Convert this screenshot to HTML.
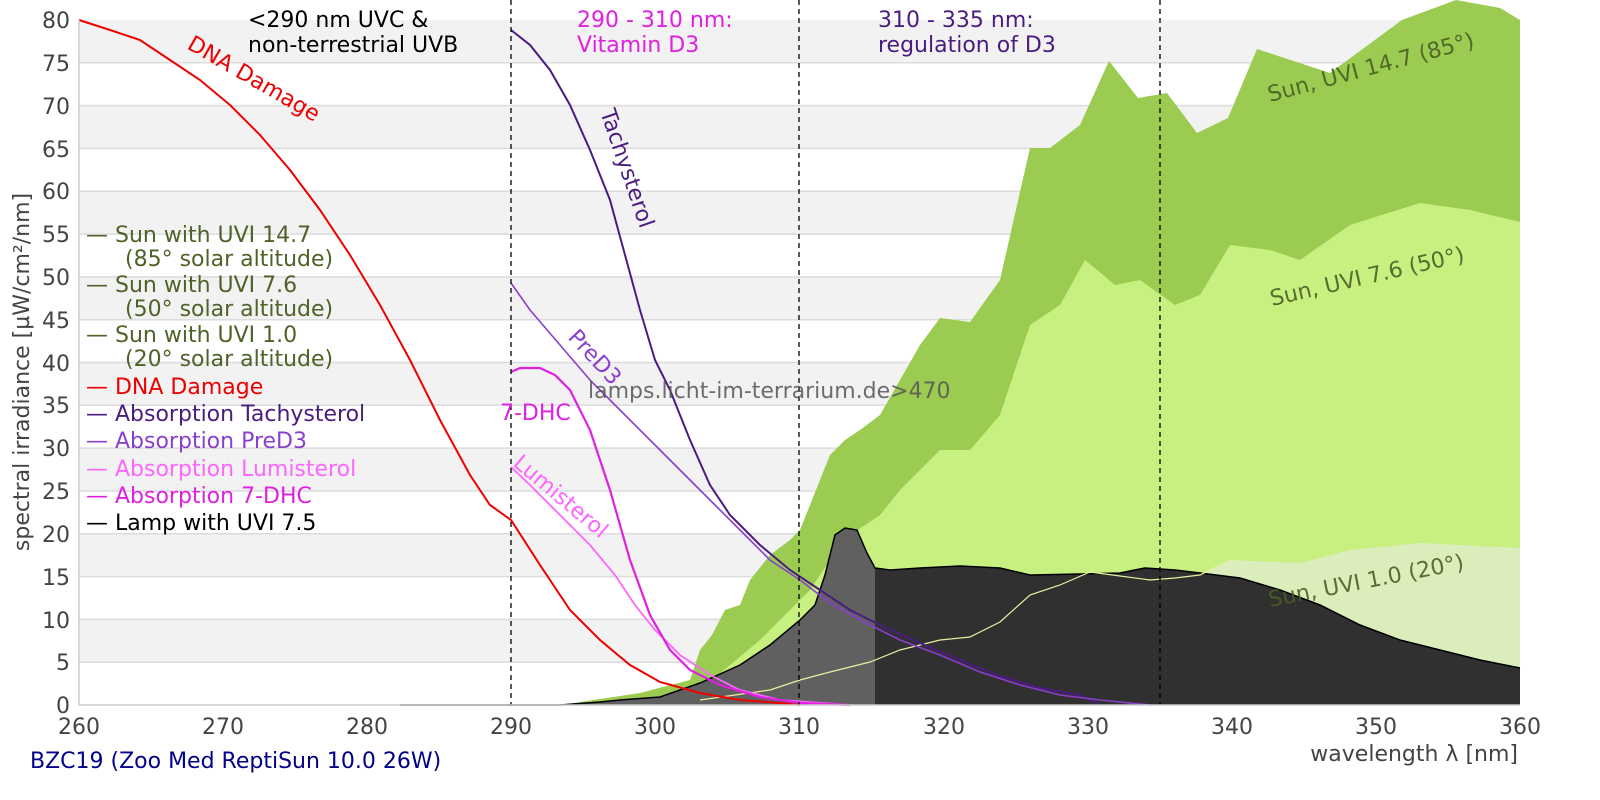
<!DOCTYPE html>
<html><head><meta charset="utf-8"><style>
html,body{margin:0;padding:0;background:#fff;overflow:hidden;width:1600px;height:800px}
svg{display:block;font-family:"DejaVu Sans","Liberation Sans",sans-serif}
</style></head><body>
<svg width="1600" height="800" viewBox="0 0 1600 800" xmlns="http://www.w3.org/2000/svg">
<rect width="1600" height="800" fill="#fff"/>
<g fill="#f2f2f2">
<rect x="79" y="20" width="1441" height="42.8"/>
<rect x="79" y="105.6" width="1441" height="42.8"/>
<rect x="79" y="191.3" width="1441" height="42.8"/>
<rect x="79" y="276.9" width="1441" height="42.8"/>
<rect x="79" y="362.5" width="1441" height="42.8"/>
<rect x="79" y="448.1" width="1441" height="42.8"/>
<rect x="79" y="533.8" width="1441" height="42.8"/>
<rect x="79" y="619.4" width="1441" height="42.8"/>
</g>
<g stroke="#dcdcdc" stroke-width="1.5">
<line x1="79" x2="1520" y1="62.8" y2="62.8"/><line x1="79" x2="1520" y1="105.6" y2="105.6"/>
<line x1="79" x2="1520" y1="148.4" y2="148.4"/><line x1="79" x2="1520" y1="191.3" y2="191.3"/>
<line x1="79" x2="1520" y1="234.1" y2="234.1"/><line x1="79" x2="1520" y1="276.9" y2="276.9"/>
<line x1="79" x2="1520" y1="319.7" y2="319.7"/><line x1="79" x2="1520" y1="362.5" y2="362.5"/>
<line x1="79" x2="1520" y1="405.3" y2="405.3"/><line x1="79" x2="1520" y1="448.1" y2="448.1"/>
<line x1="79" x2="1520" y1="491" y2="491"/><line x1="79" x2="1520" y1="533.8" y2="533.8"/>
<line x1="79" x2="1520" y1="576.6" y2="576.6"/><line x1="79" x2="1520" y1="619.4" y2="619.4"/>
<line x1="79" x2="1520" y1="662.2" y2="662.2"/>
</g>
<polygon fill="#9bcb50" points="560,705 640,693 690,680 700,650 712,635 725,610 740,605 750,580 770,555 790,540 800,530 820,480 830,455 845,440 860,430 880,415 900,380 920,345 940,318 970,322 1000,280 1030,148 1050,148 1080,125 1109,61 1138,98 1167,93 1197,133 1228,118 1257,49 1330,73 1402,20 1456,0 1500,8 1520,20 1520,705"/>
<polygon fill="#c8f080" points="600,705 700,690 760,640 790,610 810,590 830,560 850,535 880,515 900,490 940,450 970,450 1000,415 1030,325 1060,305 1085,260 1115,285 1140,280 1175,305 1200,295 1230,245 1270,250 1300,260 1350,225 1420,203 1470,210 1520,222 1520,705"/>
<polygon fill="#daedbb" points="700,700 770,690 800,680 830,672 870,662 900,650 940,640 970,637 1000,622 1030,595 1060,585 1090,572 1120,576 1150,580 1175,578 1200,575 1230,560 1300,563 1350,550 1420,543 1520,548 1520,705 700,705"/>
<clipPath id="cl"><rect x="0" y="0" width="875" height="800"/></clipPath>
<clipPath id="cr"><rect x="875" y="0" width="800" height="800"/></clipPath>
<polygon clip-path="url(#cl)" fill="#606060" points="560,705 600,702 620,700 660,697 700,683 740,665 770,645 800,620 815,605 825,575 835,535 845,528 857,530 867,553 875,568 890,570 920,568 960,566 1000,568 1030,575 1080,574 1120,573 1145,568 1175,570 1200,573 1240,578 1280,590 1320,605 1360,625 1400,640 1440,650 1480,660 1520,668 1520,705"/>
<polygon clip-path="url(#cr)" fill="#303030" points="560,705 600,702 620,700 660,697 700,683 740,665 770,645 800,620 815,605 825,575 835,535 845,528 857,530 867,553 875,568 890,570 920,568 960,566 1000,568 1030,575 1080,574 1120,573 1145,568 1175,570 1200,573 1240,578 1280,590 1320,605 1360,625 1400,640 1440,650 1480,660 1520,668 1520,705"/>
<polyline fill="none" stroke="#000" stroke-width="1.5" points="400,705 560,705 600,702 620,700 660,697 700,683 740,665 770,645 800,620 815,605 825,575 835,535 845,528 857,530 867,553 875,568 890,570 920,568 960,566 1000,568 1030,575 1080,574 1120,573 1145,568 1175,570 1200,573 1240,578 1280,590 1320,605 1360,625 1400,640 1440,650 1480,660 1520,668"/>
<polyline fill="none" stroke="#e8f0a0" stroke-width="1.2" points="700,700 770,690 800,680 830,672 870,662 900,650 940,640 970,637 1000,622 1030,595 1060,585 1090,572 1120,576 1150,580 1175,578 1200,575 1230,560"/>
<polyline fill="none" stroke="#ee0000" stroke-width="2" points="79,20 110,30 140,40 170,60 200,80 230,105 260,135 290,170 320,210 350,255 380,305 410,360 440,420 470,475 490,505 511,520 540,565 570,610 600,640 630,665 660,682 700,693 740,700 780,703 800,705"/>
<polyline fill="none" stroke="#4b1c80" stroke-width="2" points="511,30 530,45 550,70 570,105 590,150 610,200 625,255 640,310 655,360 670,390 690,440 710,485 730,515 760,545 790,570 820,590 850,610 880,625 920,643 960,660 1000,676 1040,688 1080,695 1100,705"/>
<polyline fill="none" stroke="#8a3fcf" stroke-width="1.6" points="511,283 530,310 560,345 590,380 620,410 650,440 680,470 710,500 740,530 770,560 800,580 830,603 860,620 900,640 940,655 980,672 1020,685 1060,695 1100,700 1150,705"/>
<polyline fill="none" stroke="#ff66ff" stroke-width="1.8" points="511,467 530,485 560,515 590,545 615,575 635,605 655,630 680,655 710,675 740,690 780,700 850,705"/>
<polyline fill="none" stroke="#e020e0" stroke-width="2.2" points="511,372 520,368 540,368 555,375 570,390 590,430 610,490 630,560 650,615 670,650 690,670 720,685 760,697 800,703 850,705"/>
<g stroke="#000" stroke-width="1.3" stroke-dasharray="5,4">
<line x1="511" x2="511" y1="0" y2="705"/><line x1="799" x2="799" y1="0" y2="705"/><line x1="1160" x2="1160" y1="0" y2="705"/>
</g>
<line x1="79" x2="79" y1="20" y2="705" stroke="#ccc" stroke-width="1.5"/>
<line x1="79" x2="1520" y1="705" y2="705" stroke="#ccc" stroke-width="1.5"/>
<g fill="#444" font-size="22" text-anchor="end">
<text x="70" y="28">80</text><text x="70" y="71">75</text><text x="70" y="114">70</text><text x="70" y="157">65</text>
<text x="70" y="199">60</text><text x="70" y="242">55</text><text x="70" y="285">50</text><text x="70" y="328">45</text>
<text x="70" y="371">40</text><text x="70" y="413">35</text><text x="70" y="456">30</text><text x="70" y="499">25</text>
<text x="70" y="542">20</text><text x="70" y="585">15</text><text x="70" y="628">10</text><text x="70" y="670">5</text><text x="70" y="713">0</text>
</g>
<g fill="#444" font-size="22" text-anchor="middle">
<text x="79" y="734">260</text><text x="223" y="734">270</text><text x="367" y="734">280</text><text x="511" y="734">290</text>
<text x="655" y="734">300</text><text x="799" y="734">310</text><text x="944" y="734">320</text><text x="1088" y="734">330</text>
<text x="1232" y="734">340</text><text x="1376" y="734">350</text><text x="1520" y="734">360</text>
</g>
<text x="29" y="372" transform="rotate(-90 29 372)" fill="#444" font-size="22" text-anchor="middle">spectral irradiance [µW/cm²/nm]</text>
<text x="1518" y="761" fill="#444" font-size="22" text-anchor="end">wavelength λ [nm]</text>
<text x="30" y="768" fill="#00008b" font-size="22">BZC19 (Zoo Med ReptiSun 10.0 26W)</text>
<g font-size="22">
<text x="248" y="27" fill="#000">&lt;290 nm UVC &amp;</text>
<text x="248" y="52" fill="#000">non-terrestrial UVB</text>
<text x="577" y="27" fill="#e020e0">290 - 310 nm:</text>
<text x="577" y="52" fill="#e020e0">Vitamin D3</text>
<text x="878" y="27" fill="#4b1c80">310 - 335 nm:</text>
<text x="878" y="52" fill="#4b1c80">regulation of D3</text>
</g>
<g font-size="22">
<text x="86" y="242" fill="#4f6228">— Sun with UVI 14.7</text>
<text x="125" y="266" fill="#4f6228">(85° solar altitude)</text>
<text x="86" y="292" fill="#4f6228">— Sun with UVI 7.6</text>
<text x="125" y="316" fill="#4f6228">(50° solar altitude)</text>
<text x="86" y="342" fill="#4f6228">— Sun with UVI 1.0</text>
<text x="125" y="366" fill="#4f6228">(20° solar altitude)</text>
<text x="86" y="394" fill="#ee0000">— DNA Damage</text>
<text x="86" y="421" fill="#4b1c80">— Absorption Tachysterol</text>
<text x="86" y="448" fill="#8a3fcf">— Absorption PreD3</text>
<text x="86" y="476" fill="#ff66ff">— Absorption Lumisterol</text>
<text x="86" y="503" fill="#e020e0">— Absorption 7-DHC</text>
<text x="86" y="530" fill="#000">— Lamp with UVI 7.5</text>
</g>
<g font-size="22">
<text x="186" y="48" fill="#ee0000" transform="rotate(30 186 48)">DNA Damage</text>
<text x="600" y="112" fill="#4b1c80" transform="rotate(71 600 112)">Tachysterol</text>
<text x="567" y="338" fill="#8a3fcf" transform="rotate(47 567 338)">PreD3</text>
<text x="512" y="465" fill="#ff66ff" transform="rotate(40 512 465)">Lumisterol</text>
<text x="500" y="420" fill="#e020e0">7-DHC</text>
<text x="588" y="398" fill="#555" fill-opacity="0.85">lamps.licht-im-terrarium.de&gt;470</text>
</g>
<g font-size="22" fill="#4a5e23" fill-opacity="0.9">
<text x="1270" y="102" transform="rotate(-15 1270 102)">Sun, UVI 14.7 (85°)</text>
<text x="1272" y="306" transform="rotate(-13 1272 306)">Sun, UVI 7.6 (50°)</text>
<text x="1270" y="607" transform="rotate(-11 1270 607)">Sun, UVI 1.0 (20°)</text>
</g>
</svg>
</body></html>
